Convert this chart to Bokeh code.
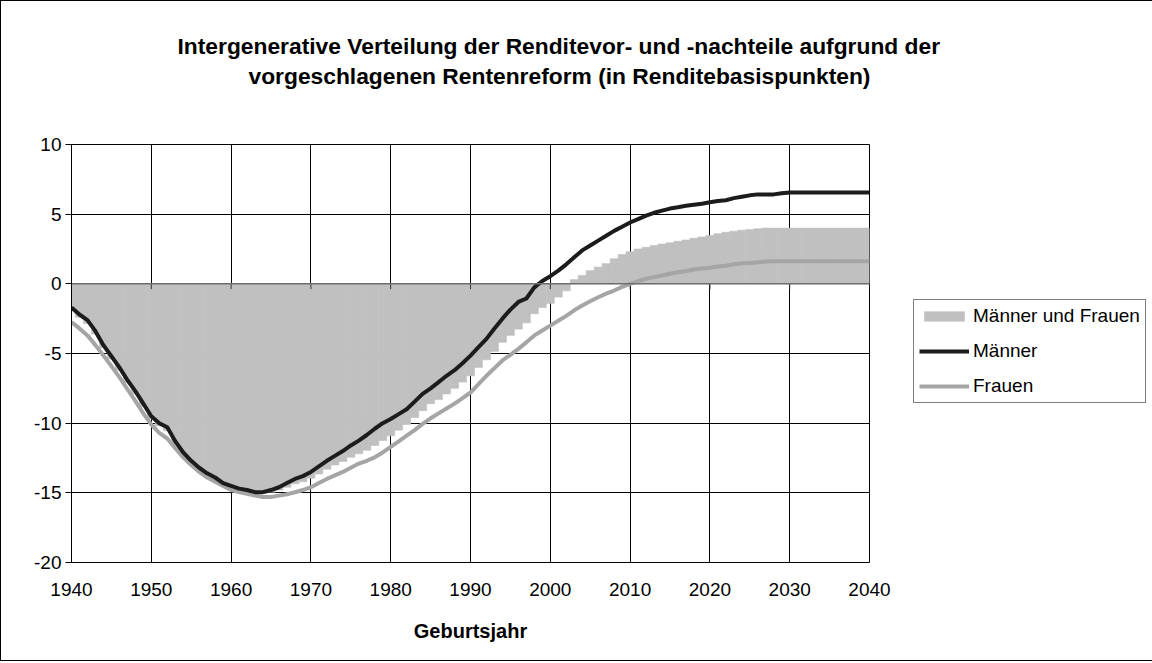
from bokeh.plotting import figure
from bokeh.models import Range1d, FixedTicker, Legend, LegendItem, Span, ColumnDataSource, Title
from bokeh.embed import file_html
from bokeh.resources import INLINE

# ---------------- data ----------------
years = list(range(1940, 2041))

maenner = [
    -1.7, -2.2, -2.6, -3.4, -4.4, -5.2, -6.0, -6.9, -7.7, -8.6,
    -9.5, -10.0, -10.3, -11.3, -12.1, -12.7, -13.2, -13.6, -13.9, -14.3,
    -14.5, -14.7, -14.8, -14.95, -14.95, -14.8, -14.6, -14.3, -14.0, -13.8,
    -13.5, -13.1, -12.7, -12.35, -12.0, -11.6, -11.25, -10.85, -10.4, -10.0,
    -9.7, -9.35, -9.0, -8.45, -7.9, -7.5, -7.06, -6.6, -6.2, -5.7,
    -5.15, -4.55, -3.95, -3.2, -2.5, -1.85, -1.3, -1.05, -0.25, 0.2,
    0.55, 0.95, 1.4, 1.9, 2.4, 2.75, 3.1, 3.45, 3.8, 4.1,
    4.4, 4.65, 4.9, 5.1, 5.25, 5.4, 5.5, 5.6, 5.67, 5.75,
    5.85, 5.95, 6.0, 6.15, 6.25, 6.35, 6.42, 6.42, 6.42, 6.5,
    6.55, 6.55, 6.55, 6.55, 6.55, 6.55, 6.55, 6.55, 6.55, 6.55,
    6.55,
]

frauen = [
    -2.75, -3.2, -3.7, -4.4, -5.15, -5.9, -6.7, -7.55, -8.4, -9.3,
    -10.1, -10.7, -11.1, -11.8, -12.45, -13.0, -13.5, -13.9, -14.2, -14.5,
    -14.8, -14.95, -15.07, -15.2, -15.3, -15.3, -15.2, -15.1, -14.96, -14.8,
    -14.6, -14.3, -14.0, -13.75, -13.5, -13.2, -12.9, -12.7, -12.45, -12.1,
    -11.7, -11.3, -10.9, -10.5, -10.05, -9.65, -9.3, -8.95, -8.6, -8.2,
    -7.8, -7.2, -6.6, -6.05, -5.5, -5.1, -4.67, -4.2, -3.7, -3.35,
    -3.0, -2.65, -2.3, -1.9, -1.56, -1.25, -0.96, -0.7, -0.48, -0.22,
    0.0, 0.2, 0.36, 0.48, 0.6, 0.72, 0.83, 0.92, 1.03, 1.1,
    1.15, 1.25, 1.3, 1.4, 1.48, 1.5, 1.55, 1.6, 1.62, 1.62,
    1.62, 1.62, 1.62, 1.62, 1.62, 1.62, 1.62, 1.62, 1.62, 1.62,
    1.62,
]

maenner_und_frauen = [
    -1.9, -2.4, -2.85, -3.6, -4.6, -5.4, -6.2, -7.1, -7.9, -8.8,
    -9.7, -10.2, -10.55, -11.5, -12.3, -12.85, -13.35, -13.75, -14.05, -14.4,
    -14.6, -14.8, -14.9, -15.05, -15.05, -14.95, -14.8, -14.6, -14.35, -14.2,
    -13.95, -13.65, -13.3, -13.0, -12.75, -12.45, -12.2, -11.95, -11.6, -11.25,
    -10.9, -10.5, -10.1, -9.6, -9.1, -8.6, -8.3, -7.9, -7.5, -7.05,
    -6.6, -6.0, -5.45, -4.85, -4.2, -3.7, -3.25, -2.8, -2.15, -1.7,
    -1.4, -0.95, -0.5, 0.3, 0.6, 0.95, 1.2, 1.45, 1.8, 2.1,
    2.3, 2.5, 2.62, 2.75, 2.85, 2.95, 3.05, 3.15, 3.27, 3.37,
    3.47, 3.6, 3.7, 3.78, 3.85, 3.9, 3.95, 4.0, 4.0, 4.0,
    4.0, 4.0, 4.0, 4.0, 4.0, 4.0, 4.0, 4.0, 4.0, 4.0,
    4.0,
]

x_ticks = [1940, 1950, 1960, 1970, 1980, 1990, 2000, 2010, 2020, 2030, 2040]
y_ticks = [-20, -15, -10, -5, 0, 5, 10]

title_lines = [
    "Intergenerative Verteilung der Renditevor- und -nachteile aufgrund der",
    "vorgeschlagenen Rentenreform (in Renditebasispunkten)",
]

FONT = "Liberation Sans"

src = ColumnDataSource(dict(year=years, m=maenner, f=frauen, mf=maenner_und_frauen))

p = figure(output_backend="svg", toolbar_location=None,
           x_range=Range1d(1940, 2040), y_range=Range1d(-20, 10),
           min_border_left=70, min_border_right=280, min_border_top=143, min_border_bottom=98)
p.frame_width = 798
p.frame_height = 418
p.styles = {"border": "1px solid #000000"}
p.background_fill_color = "white"
p.border_fill_color = "white"
p.outline_line_color = "#000000"
p.outline_line_width = 1

# grid
p.xgrid.ticker = FixedTicker(ticks=x_ticks)
p.ygrid.ticker = FixedTicker(ticks=y_ticks)
p.xgrid.grid_line_color = "#000000"
p.ygrid.grid_line_color = "#000000"
p.xgrid.grid_line_width = 1
p.ygrid.grid_line_width = 1

# axes
p.xaxis.ticker = FixedTicker(ticks=x_ticks)
p.xaxis.axis_line_color = None
p.xaxis.major_tick_out = 0
p.xaxis.major_tick_in = 0
p.xaxis.minor_tick_out = 0
p.xaxis.minor_tick_in = 0
p.xaxis.major_label_standoff = 20
p.xaxis.major_label_text_font = FONT
p.xaxis.major_label_text_font_size = "19px"
p.xaxis.major_label_text_color = "#000000"
p.xaxis.axis_label = "Geburtsjahr"
p.xaxis.axis_label_text_font = FONT
p.xaxis.axis_label_text_font_size = "20px"
p.xaxis.axis_label_text_font_style = "bold"
p.xaxis.axis_label_text_color = "#000000"
p.xaxis.axis_label_standoff = 21

p.yaxis.ticker = FixedTicker(ticks=y_ticks)
p.yaxis.major_label_overrides = {t: str(t) for t in y_ticks}
p.yaxis.axis_line_color = "#000000"
p.yaxis.major_tick_out = 6
p.yaxis.major_tick_in = 0
p.yaxis.minor_tick_out = 0
p.yaxis.minor_tick_in = 0
p.yaxis.major_tick_line_color = "#000000"
p.yaxis.major_label_standoff = 4
p.yaxis.major_label_text_font = FONT
p.yaxis.major_label_text_font_size = "19px"
p.yaxis.major_label_text_color = "#000000"

# series
bars = p.vbar(x="year", top="mf", bottom=0, width=1, source=src,
              fill_color="#c0c0c0", line_color="#c0c0c0", line_width=0.6)

zero = Span(location=0, dimension="width", line_color="#6e6e6e", line_width=1.5)
p.add_layout(zero)
p.segment(x0=x_ticks, y0=[0] * len(x_ticks), x1=x_ticks, y1=[-0.38] * len(x_ticks),
          line_color="#333333", line_width=1)

l_f = p.line(x="year", y="f", source=src, line_color="#a5a5a5", line_width=4, line_join="round")
l_m = p.line(x="year", y="m", source=src, line_color="#1c1c1c", line_width=4, line_join="round")

legend = Legend(items=[
    LegendItem(label="Männer und Frauen", renderers=[bars]),
    LegendItem(label="Männer", renderers=[l_m]),
    LegendItem(label="Frauen", renderers=[l_f]),
], location=(44, 159))
legend.border_line_color = "#000000"
legend.border_line_width = 1
legend.background_fill_color = "white"
legend.background_fill_alpha = 1
legend.label_text_font = FONT
legend.label_text_font_size = "19px"
legend.label_text_color = "#000000"
legend.glyph_width = 50
legend.glyph_height = 12
legend.label_height = 12
legend.spacing = 13
legend.padding = 5
legend.margin = 0
legend.label_standoff = 4
p.add_layout(legend, "right")

# title: a blank spacer next to the plot, then the two title lines above it
p.add_layout(Title(text=" ", align="left", standoff=28,
                   text_font=FONT, text_font_size="22px"), "above")
p.add_layout(Title(text=title_lines[1], align="left", offset=177, standoff=2,
                   text_font=FONT, text_font_size="22.8px", text_font_style="bold",
                   text_color="#000000"), "above")
p.add_layout(Title(text=title_lines[0], align="left", offset=106, standoff=2,
                   text_font=FONT, text_font_size="22.8px", text_font_style="bold",
                   text_color="#000000"), "above")

open("out.html", "w").write(file_html(p, INLINE))
